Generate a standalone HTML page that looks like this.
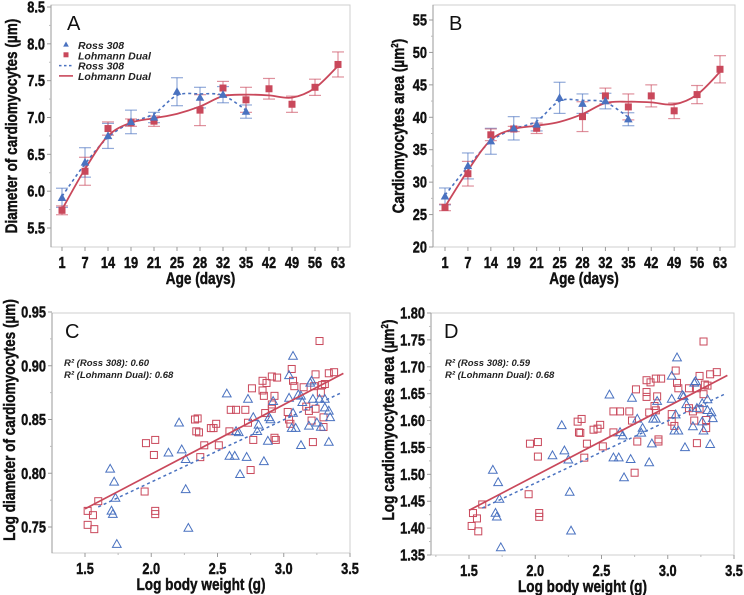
<!DOCTYPE html>
<html><head><meta charset="utf-8"><style>
html,body{margin:0;padding:0;background:#fff;}
svg{display:block;font-family:"Liberation Sans",sans-serif;}
</style></head><body>
<svg id="chart" width="744" height="595" viewBox="0 0 744 595" xmlns="http://www.w3.org/2000/svg"></svg>
<script>
// ---------- data ----------
const ageCats = ["1","7","14","19","21","25","28","32","35","42","49","56","63"];
// Panel A: diameter
const aRossIdx = [0,1,2,3,4,5,6,7,8];
const aRossMean = [5.91,6.39,6.75,6.94,7.00,7.35,7.27,7.31,7.08];
const aRossErr = [0.13,0.20,0.17,0.16,0.07,0.19,0.14,0.11,0.09];
const aRossFit = [5.93,6.37,6.73,6.93,7.05,7.30,7.32,7.30,7.10];
const aLohIdx = [0,1,2,3,4,6,7,8,9,10,11,12];
const aLohMean = [5.74,6.27,6.85,6.93,6.95,7.10,7.40,7.24,7.39,7.18,7.41,7.72];
const aLohErr = [0.06,0.19,0.09,0.05,0.07,0.21,0.09,0.17,0.14,0.11,0.11,0.17];
const aLohFit = [5.75,6.30,6.75,6.93,6.99,7.05,7.15,7.29,7.31,7.30,7.27,7.40,7.70];
// Panel B: area
const bRossMean = [27.8,32.5,36.3,38.3,38.9,43.0,42.1,42.5,39.7];
const bRossErr = [1.3,2.0,2.0,1.8,1.0,2.4,1.5,1.2,1.0];
const bRossFit = [28.0,32.4,36.3,38.2,39.4,42.5,42.6,42.3,40.0];
const bLohMean = [26.1,31.3,37.3,38.2,38.3,40.1,43.3,41.6,43.3,41.0,43.5,47.4];
const bLohErr = [0.5,1.9,0.9,0.4,0.8,2.3,1.2,2.0,1.7,1.2,1.4,2.1];
const bLohFit = [26.2,31.8,36.5,38.2,38.7,39.3,40.5,42.2,42.4,42.3,42.0,43.5,47.0];
// Panel C scatter
const cRossX = [1.69,1.72,1.73,1.70,1.71,1.74,2.13,2.21,2.23,2.26,2.26,2.28,2.57,2.59,2.63,2.64,2.66,2.67,2.72,2.73,2.77,2.80,2.81,2.85,2.88,2.89,2.90,2.92,3.04,3.04,3.07,3.07,3.06,3.09,3.11,3.13,3.13,3.14,3.19,3.20,3.21,3.22,3.25,3.27,3.28,3.31,3.31,3.34,3.34,3.35];
const cRossY = [0.804,0.792,0.777,0.765,0.762,0.734,0.819,0.847,0.822,0.813,0.785,0.749,0.874,0.816,0.816,0.839,0.838,0.799,0.815,0.869,0.852,0.839,0.845,0.811,0.830,0.852,0.850,0.867,0.870,0.891,0.909,0.856,0.842,0.842,0.873,0.872,0.826,0.866,0.844,0.884,0.886,0.869,0.847,0.869,0.843,0.869,0.861,0.829,0.858,0.852];
const cLohX = [1.52,1.52,1.56,1.57,1.60,1.95,1.96,2.03,2.02,2.03,2.03,2.33,2.34,2.36,2.35,2.37,2.40,2.45,2.47,2.49,2.51,2.59,2.60,2.64,2.71,2.73,2.75,2.76,2.77,2.84,2.85,2.84,2.87,2.86,2.91,2.91,2.91,2.93,2.95,2.93,2.94,3.03,3.04,3.05,3.06,3.07,3.08,3.15,3.17,3.19,3.21,3.22,3.23,3.24,3.24,3.27,3.28,3.29,3.30,3.30,3.31,3.34,3.38];
const cLohY = [0.752,0.765,0.761,0.748,0.774,0.783,0.828,0.831,0.817,0.765,0.762,0.850,0.839,0.838,0.851,0.815,0.826,0.842,0.842,0.846,0.826,0.839,0.859,0.859,0.859,0.847,0.803,0.879,0.831,0.877,0.872,0.886,0.884,0.856,0.890,0.864,0.860,0.872,0.889,0.833,0.831,0.857,0.850,0.846,0.897,0.886,0.881,0.880,0.862,0.858,0.849,0.829,0.881,0.892,0.860,0.923,0.875,0.882,0.843,0.852,0.883,0.893,0.894];
const cRossReg = [0.0579,0.676,1.60,3.43];
const cLohReg = [0.0646,0.670,1.50,3.45];
// Panel D scatter
const dRossX = [1.68,1.72,1.73,1.70,1.71,1.74,2.13,2.20,2.22,2.25,2.26,2.27,2.56,2.59,2.63,2.64,2.66,2.67,2.72,2.73,2.77,2.80,2.81,2.86,2.88,2.89,2.91,2.92,3.03,3.03,3.07,3.06,3.05,3.08,3.11,3.12,3.13,3.14,3.19,3.20,3.21,3.22,3.26,3.26,3.27,3.30,3.30,3.32,3.33,3.34];
const dRossY = [1.508,1.485,1.454,1.428,1.421,1.364,1.535,1.591,1.544,1.527,1.467,1.395,1.648,1.531,1.531,1.578,1.572,1.494,1.528,1.642,1.603,1.577,1.586,1.522,1.557,1.603,1.603,1.636,1.640,1.683,1.717,1.611,1.581,1.581,1.647,1.645,1.550,1.630,1.589,1.670,1.673,1.623,1.598,1.632,1.581,1.639,1.619,1.556,1.615,1.604];
const dLohX = [1.52,1.53,1.56,1.57,1.60,1.95,1.96,2.02,2.02,2.03,2.03,2.32,2.33,2.34,2.35,2.37,2.39,2.44,2.47,2.49,2.51,2.59,2.59,2.64,2.71,2.73,2.75,2.76,2.77,2.84,2.84,2.84,2.87,2.86,2.91,2.90,2.91,2.92,2.95,2.93,2.93,3.03,3.03,3.05,3.06,3.07,3.08,3.16,3.16,3.19,3.20,3.22,3.22,3.24,3.24,3.27,3.27,3.28,3.29,3.29,3.30,3.32,3.37];
const dLohY = [1.404,1.428,1.418,1.394,1.444,1.463,1.557,1.560,1.533,1.428,1.421,1.598,1.578,1.577,1.603,1.531,1.557,1.583,1.585,1.592,1.552,1.578,1.617,1.617,1.617,1.600,1.503,1.658,1.561,1.653,1.644,1.675,1.671,1.615,1.678,1.627,1.619,1.645,1.678,1.565,1.561,1.612,1.598,1.590,1.693,1.670,1.660,1.660,1.623,1.617,1.600,1.558,1.660,1.683,1.621,1.747,1.649,1.667,1.586,1.601,1.665,1.686,1.690];
const dRossReg = [0.1158,1.252,1.60,3.43];
const dLohReg = [0.1287,1.240,1.50,3.45];
const aTicks = ["5.5","6.0","6.5","7.0","7.5","8.0","8.5"];
const bTicks = ["20","25","30","35","40","45","50","55"];
const cTicks = ["0.75","0.80","0.85","0.90","0.95"];
const dTicks = ["1.35","1.40","1.45","1.50","1.55","1.60","1.65","1.70","1.75","1.80"];
const xTicks = ["1.5","2.0","2.5","3.0","3.5"];

// ---------- helpers ----------
const NS="http://www.w3.org/2000/svg";
const svg=document.getElementById('chart');
const BLUE="#4a72c0", RED="#c9485b";
const SQ=0.8;
function mk(tag,attrs,parent){const e=document.createElementNS(NS,tag);for(const k in attrs)e.setAttribute(k,attrs[k]);(parent||svg).appendChild(e);return e;}
function lin(d0,d1,r0,r1){return v=>r0+(v-d0)*(r1-r0)/(d1-d0);}
function smooth(pts){let d="M"+pts[0][0]+","+pts[0][1];for(let i=0;i<pts.length-1;i++){const p0=pts[i-1]||pts[i],p1=pts[i],p2=pts[i+1],p3=pts[i+2]||p2;const c1=[p1[0]+(p2[0]-p0[0])/6,p1[1]+(p2[1]-p0[1])/6],c2=[p2[0]-(p3[0]-p1[0])/6,p2[1]-(p3[1]-p1[1])/6];d+=" C"+c1+" "+c2+" "+p2;}return d;}
function ctext(g,x,y,anchor,size,rot){
  const t=mk('text',{x:0,y:0,'text-anchor':anchor,'font-size':size,'font-weight':'bold',fill:'#111',stroke:'#111','stroke-width':0.45},g);
  t.setAttribute('transform','translate('+x+' '+y+')'+(rot?' rotate(-90)':'')+' scale('+SQ+' 1)');
  return t;
}

function frame(g,L,R,T,B){
  const r=mk('rect',{x:L,y:T,width:R-L,height:B-T,fill:'none',stroke:'#cfcfcf','stroke-width':1},g);
  
  const ax=mk('line',{x1:L,y1:T,x2:L,y2:B,stroke:'#9a9a9a','stroke-width':1},g);
  
}
function yAxis(g,ticks,y,L,name){
  ticks.forEach((t,i)=>{const v=parseFloat(t),py=y(v);
    mk('line',{x1:L-4,y1:py,x2:L,y2:py,stroke:'#9a9a9a'},g);
    if(i<ticks.length-1){const m=y(v+(parseFloat(ticks[1])-parseFloat(ticks[0]))/2);mk('line',{x1:L-2,y1:m,x2:L,y2:m,stroke:'#bbb'},g);}
    const tx=ctext(g,L-6,py+5.5,'end',16);tx.textContent=t;
    });
}
function title(g,x,y,txt,rot,name){
  const t=ctext(g,x,y,'middle',17,rot);t.innerHTML=txt;
  
}
function letter(g,x,y,L){const t=mk('text',{x:x,y:y,'font-size':20,fill:'#111'},g);t.textContent=L;
  }
function tri(g,x,y,s,fill,stroke){return mk('polygon',{points:`${x},${y-s} ${x-s*0.95},${y+s*0.7} ${x+s*0.95},${y+s*0.7}`,fill:fill,stroke:stroke,'stroke-width':1},g);}

function agePanel(id,L,R,T,B,x0,x1,y0,y1,yTicks,rM,rE,rF,lIdx,lM,lE,lF,ytitle,tx,ty,lab,legend){
  const g=mk('g',{});  
  frame(g,L,R,T,B);
  const X=i=>x0+i*(x1-x0)/12; const Y=lin(parseFloat(yTicks[0]),parseFloat(yTicks[yTicks.length-1]),y0,y1);
  yAxis(g,yTicks,Y,L,'y');
  ageCats.forEach((c,i)=>{mk('line',{x1:X(i),y1:B,x2:X(i),y2:B+4,stroke:'#9a9a9a'},g);
    const t=ctext(g,X(i),B+21,'middle',16);t.textContent=c;
    });
  title(g,(L+R)/2,B+37,'Age (days)',false,'x-axis-title');
  title(g,tx,ty,ytitle,true,'y-axis-title');
  letter(g,L+16,T+25,lab);
  function ebars(idx,m,e,col,nm){idx.forEach((k,j)=>{const x=X(k),a=Y(m[j]-e[j]),b=Y(m[j]+e[j]);
    const eg=mk('g',{stroke:col,'stroke-opacity':0.6,'stroke-width':1.2},g);
    
    mk('line',{x1:x,y1:a,x2:x,y2:b},eg);mk('line',{x1:x-6,y1:a,x2:x+6,y2:a},eg);mk('line',{x1:x-6,y1:b,x2:x+6,y2:b},eg);});}
  ebars(aRossIdx,rM,rE,BLUE,'ross');ebars(lIdx,lM,lE,RED,'lohmann');
  const rf=mk('path',{d:smooth(rF.map((v,i)=>[X(aRossIdx[i]),Y(v)])),fill:'none',stroke:BLUE,'stroke-width':1.6,'stroke-dasharray':'3,3'},g);
  
  const lf=mk('path',{d:smooth(lF.map((v,i)=>[X(i),Y(v)])),fill:'none',stroke:RED,'stroke-width':1.8},g);
  
  lIdx.forEach((k,j)=>{const r=mk('rect',{x:X(k)-3.5,y:Y(lM[j])-3.5,width:7,height:7,fill:RED},g);
    });
  aRossIdx.forEach((k,j)=>{const p=tri(g,X(k),Y(rM[j]),4.5,BLUE,'none');
    });
  if(legend){
    const lg=mk('g',{'font-size':10.5,'font-style':'italic','font-weight':'bold',fill:'#222'},g);
    
    const rows=[['Ross 308','tri'],['Lohmann Dual','sq'],['Ross 308','dash'],['Lohmann Dual','line']];
    rows.forEach((r,i)=>{const y=45+i*10.3;const e=mk('g',{},lg);
      
      if(r[1]=='tri')tri(e,66,y-0.5,3,BLUE,'none');
      if(r[1]=='sq')mk('rect',{x:63.5,y:y-3,width:5,height:5,fill:RED},e);
      if(r[1]=='dash')mk('line',{x1:59,y1:y,x2:73,y2:y,stroke:BLUE,'stroke-width':1.5,'stroke-dasharray':'2.5,2.5'},e);
      if(r[1]=='line')mk('line',{x1:59,y1:y,x2:73,y2:y,stroke:RED,'stroke-width':1.6},e);
      const t=mk('text',{x:78,y:y+4},e);t.textContent=r[0];});
  }
}

function scatterPanel(id,L,R,T,B,xp15,xp35,yTicks,ya,yb,rX,rY,lX,lY,rReg,lReg,ytitle,tx,ty,lab,r2a,r2b,r2x,r2y){
  const g=mk('g',{});  
  frame(g,L,R,T,B);
  const X=lin(1.5,3.5,xp15,xp35);
  const Y=lin(parseFloat(yTicks[0]),parseFloat(yTicks[yTicks.length-1]),ya,yb);
  yAxis(g,yTicks,Y,L,'y');
  xTicks.forEach(t=>{const v=parseFloat(t),px=X(v);mk('line',{x1:px,y1:B,x2:px,y2:B+4,stroke:'#9a9a9a'},g);
    const m=X(v-0.25);if(m>L)mk('line',{x1:m,y1:B,x2:m,y2:B+2,stroke:'#bbb'},g);
    const tt=ctext(g,px,B+21,'middle',16);tt.textContent=t;
    });
  title(g,(L+R)/2,B+37,'Log body weight (g)',false,'x-axis-title');
  title(g,tx,ty,ytitle,true,'y-axis-title');
  letter(g,L+13,T+25,lab);
  const rt=mk('g',{'font-size':9.5,'font-style':'italic','font-weight':'bold',fill:'#222'},g);
  
  const t1=mk('text',{x:r2x,y:r2y},rt);t1.textContent=r2a;const t2=mk('text',{x:r2x,y:r2y+12},rt);t2.textContent=r2b;
  lX.forEach((x,i)=>{const r=mk('rect',{x:X(x)-3.5,y:Y(lY[i])-3.5,width:7,height:7,fill:'none',stroke:RED,'stroke-width':1},g);
    });
  rX.forEach((x,i)=>{const p=tri(g,X(x),Y(rY[i]),4.6,'none',BLUE);
    });
  const rl=mk('line',{x1:X(rReg[2]),y1:Y(rReg[1]+rReg[0]*rReg[2]),x2:X(rReg[3]),y2:Y(rReg[1]+rReg[0]*rReg[3]),stroke:BLUE,'stroke-width':1.5,'stroke-dasharray':'3,3'},g);
  
  const ll=mk('line',{x1:X(lReg[2]),y1:Y(lReg[1]+lReg[0]*lReg[2]),x2:X(lReg[3]),y2:Y(lReg[1]+lReg[0]*lReg[3]),stroke:RED,'stroke-width':1.7},g);
  
}

agePanel('a',51,350,5,247,62,338,228,7,aTicks,aRossMean,aRossErr,aRossFit,aLohIdx,aLohMean,aLohErr,aLohFit,
  'Diameter of cardiomyocytes (µm)',17,126,'A',true);
agePanel('b',433,735,5,247,445,720,247,20,bTicks,bRossMean,bRossErr,bRossFit,aLohIdx,bLohMean,bLohErr,bLohFit,
  'Cardiomyocytes area (µm<tspan font-size="10" dy="-6">2</tspan><tspan dy="6">)</tspan>',404,126,'B',false);
scatterPanel('c',52,350,313,553,85,350,cTicks,527,312,cRossX,cRossY,cLohX,cLohY,cRossReg,cLohReg,
  'Log diameter of cardiomyocytes (µm)',15,420,'C','R² (Ross 308): 0.60','R² (Lohmann Dual): 0.68',64,366);
scatterPanel('d',431,734,313,555,469,734,dTicks,555,313,dRossX,dRossY,dLohX,dLohY,dRossReg,dLohReg,
  'Log cardiomyocytes area (µm<tspan font-size="10" dy="-6">2</tspan><tspan dy="6">)</tspan>',394,420,'D','R² (Ross 308): 0.59','R² (Lohmann Dual): 0.68',445,366);
</script>
</body></html>
